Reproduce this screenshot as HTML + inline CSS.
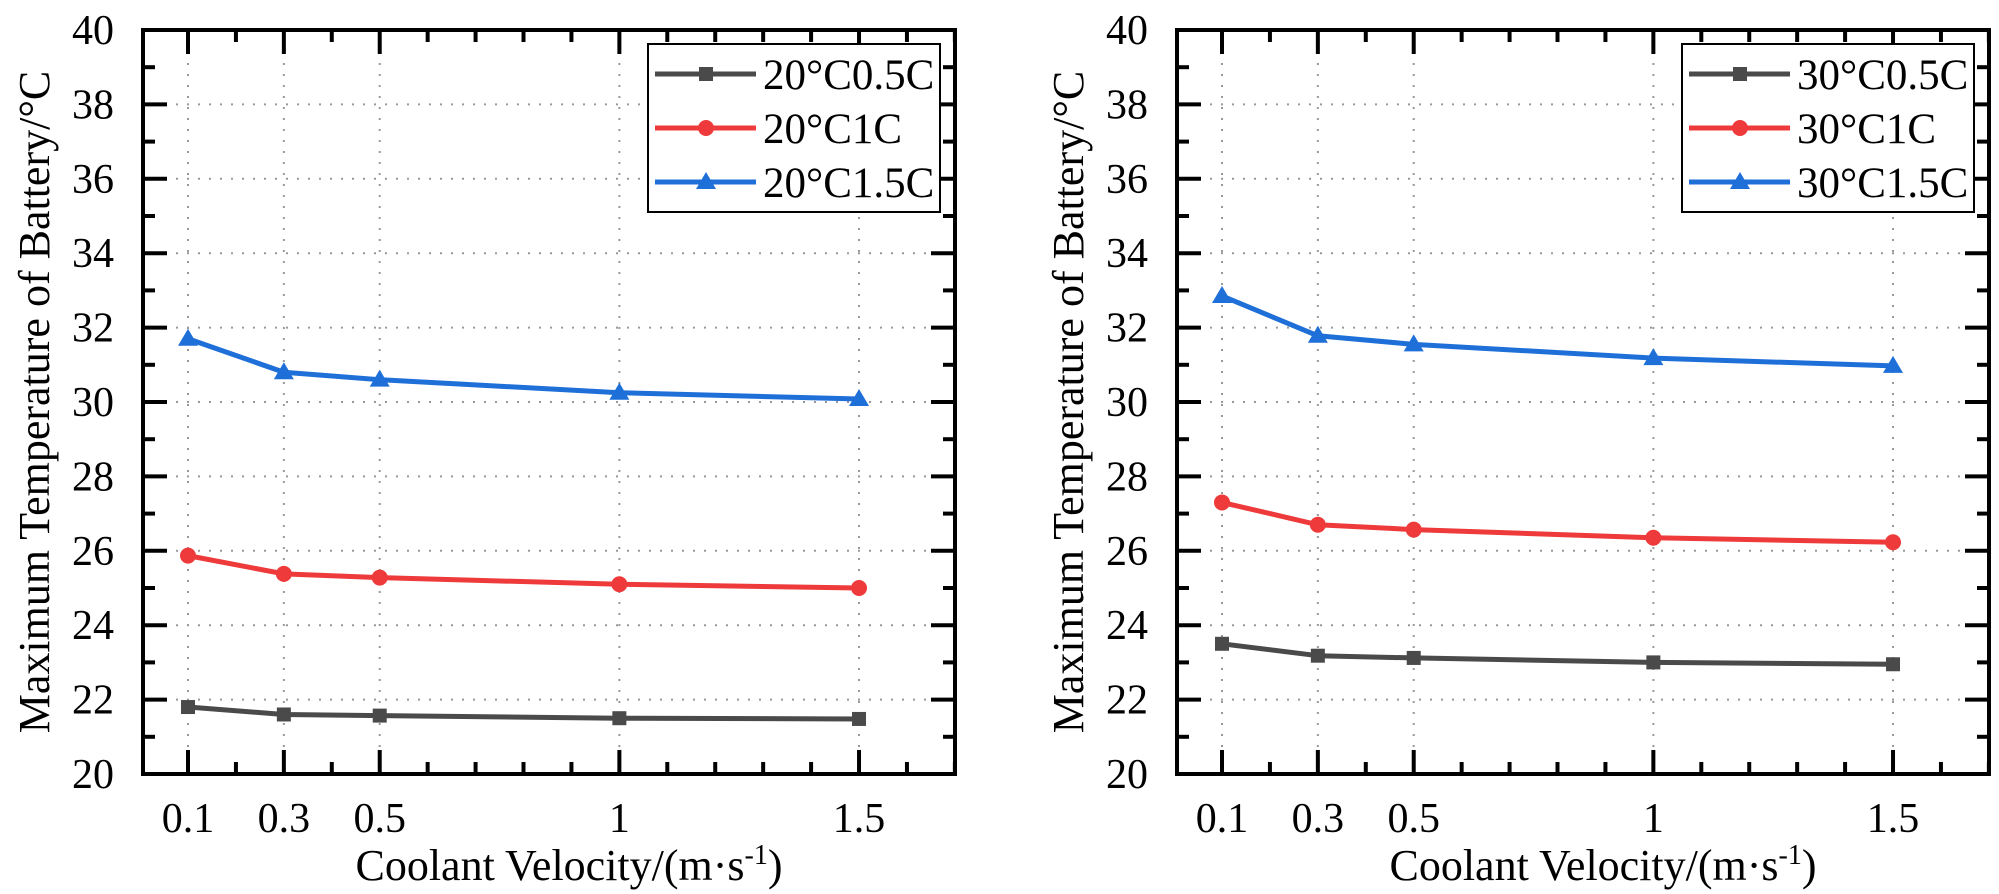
<!DOCTYPE html>
<html><head><meta charset="utf-8"><style>
html,body{margin:0;padding:0;background:#fff;}
svg{display:block;font-family:"Liberation Serif",serif;}
svg text{font-family:"Liberation Serif",serif;}
</style></head><body>
<svg id="chart" width="1999" height="894" viewBox="0 0 1999 894" xmlns="http://www.w3.org/2000/svg"></svg>
<script>
const velocities = [0.1, 0.3, 0.5, 1, 1.5];
const xTickLabels = ["0.1", "0.3", "0.5", "1", "1.5"];
const yTicks = [20, 22, 24, 26, 28, 30, 32, 34, 36, 38, 40];
const left05 = [21.8, 21.6, 21.57, 21.5, 21.48];
const left1 = [25.87, 25.38, 25.28, 25.1, 25.0];
const left15 = [31.7, 30.8, 30.6, 30.25, 30.08];
const right05 = [23.5, 23.18, 23.12, 23.0, 22.95];
const right1 = [27.3, 26.7, 26.57, 26.35, 26.23];
const right15 = [32.85, 31.78, 31.55, 31.18, 30.97];
const leftNames = ["20°C0.5C", "20°C1C", "20°C1.5C"];
const rightNames = ["30°C0.5C", "30°C1C", "30°C1.5C"];

const svg = document.getElementById('chart');
const NS = "http://www.w3.org/2000/svg";
function mk(tag, attrs, parent, text){
  const e = document.createElementNS(NS, tag);
  for (const k in attrs) e.setAttribute(k, attrs[k]);
  if (text !== undefined) e.textContent = text;
  (parent||svg).appendChild(e);
  return e;
}
const FF = '"Liberation Serif", serif';
const colors = ["#4a4a4a", "#ee3a3a", "#1f6fd8"];
const shapes = ["square", "circle", "triangle"];

function marker(g, shape, x, y, c){
  let m;
  if (shape === "square") m = mk('rect', {x:x-7, y:y-7, width:14, height:14, fill:c}, g);
  else if (shape === "circle") m = mk('circle', {cx:x, cy:y, r:8, fill:c}, g);
  else m = mk('polygon', {points:`${x},${y-10} ${x+10},${y+7} ${x-10},${y+7}`, fill:c}, g);
  return m;
}

function panel(id, L, R, series, names){
  const T = 30, B = 774;
  const xs = v => (L + 45) + (v - 0.1) * 479.3;
  const ys = v => B - (v - 20) * (B - T) / 20;
  const g = mk('g', {}, svg);
  
  
  velocities.forEach(v => {
    const l = mk('line', {x1:xs(v), x2:xs(v), y1:T, y2:B, stroke:'#999', 'stroke-width':2, 'stroke-dasharray':'2 9'}, g);
    
    
  });
  yTicks.forEach(v => {
    if (v === 20 || v === 40) return;
    const l = mk('line', {x1:L, x2:R, y1:ys(v), y2:ys(v), stroke:'#999', 'stroke-width':2, 'stroke-dasharray':'2 9'}, g);
    
    
  });
  for (let i = 0; i <= 17; i++) {
    const v = i / 10; if (v < 0.05) continue;
    const major = velocities.some(m => Math.abs(m - v) < 1e-6);
    const len = major ? 24 : 12;
    mk('line', {x1:xs(v), x2:xs(v), y1:B, y2:B-len, stroke:'#000', 'stroke-width':4}, g);
    mk('line', {x1:xs(v), x2:xs(v), y1:T, y2:T+len, stroke:'#000', 'stroke-width':4}, g);
  }
  for (let v = 21; v < 40; v++) {
    const major = v % 2 === 0; const len = major ? 24 : 12;
    mk('line', {x1:L, x2:L+len, y1:ys(v), y2:ys(v), stroke:'#000', 'stroke-width':4}, g);
    mk('line', {x1:R, x2:R-len, y1:ys(v), y2:ys(v), stroke:'#000', 'stroke-width':4}, g);
  }
  const f = mk('rect', {x:L, y:T, width:R-L, height:B-T, fill:'none', stroke:'#000', 'stroke-width':4}, g);
  
  
  yTicks.forEach(v => {
    const t = mk('text', {x:L-29, y:ys(v)+14, 'text-anchor':'end', 'font-size':42, 'font-family':FF}, g, String(v));
    
    
  });
  velocities.forEach((v, i) => {
    const t = mk('text', {x:xs(v), y:832, 'text-anchor':'middle', 'font-size':42, 'font-family':FF}, g, xTickLabels[i]);
    
    
  });
  const xt = mk('text', {x:(L+R)/2+20, y:880, 'text-anchor':'middle', 'font-size':44, 'font-family':FF}, g);
  
  
  xt.appendChild(document.createTextNode('Coolant Velocity/(m·s'));
  mk('tspan', {dy:-16, 'font-size':28}, xt, '-1');
  mk('tspan', {dy:16}, xt, ')');
  const yt = mk('text', {x:0, y:0, 'text-anchor':'middle', 'font-size':44, 'font-family':FF, transform:`translate(${L-94},${(T+B)/2}) rotate(-90)`}, g, 'Maximum Temperature of Battery/°C');
  
  
  series.forEach((vals, si) => {
    const sg = mk('g', {}, g);
    
    
    const pts = vals.map((v, i) => xs(velocities[i]) + ',' + ys(v)).join(' ');
    mk('polyline', {points:pts, fill:'none', stroke:colors[si], 'stroke-width':5, 'stroke-linejoin':'round'}, sg);
    vals.forEach((v, i) => {
      const m = marker(sg, shapes[si], xs(velocities[i]), ys(v), colors[si]);
      
      
    });
  });
  const lg = mk('g', {}, g);
  
  
  const lx = L + 505, ly = 44;
  mk('rect', {x:lx, y:ly, width:292, height:168, fill:'#fff', stroke:'#000', 'stroke-width':2}, lg);
  names.forEach((n, i) => {
    const ey = 74 + i * 54;
    const eg = mk('g', {}, lg);
    
    
    mk('line', {x1:lx+7, x2:lx+108, y1:ey, y2:ey, stroke:colors[i], 'stroke-width':5}, eg);
    marker(eg, shapes[i], lx+58, ey, colors[i]);
    mk('text', {x:lx+115, y:ey+15, 'font-size':43, 'font-family':FF}, eg, n);
  });
}
panel('left', 143, 955, [left05, left1, left15], leftNames);
panel('right', 1177, 1989, [right05, right1, right15], rightNames);
</script>
</body></html>
